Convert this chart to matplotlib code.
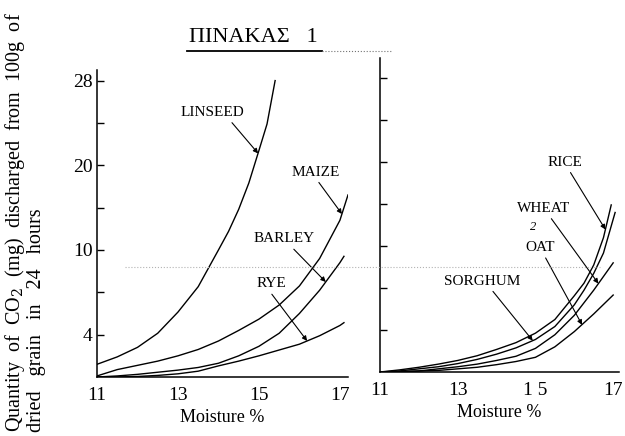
import numpy as np
import matplotlib
matplotlib.use("Agg")
import matplotlib.pyplot as plt
from matplotlib.lines import Line2D

plt.rcParams['font.family'] = ['Liberation Serif', 'DejaVu Serif']
plt.rcParams['mathtext.fontset'] = 'dejavuserif'

# --- eje Y no lineal: valores -> posicion de las marcas (equiespaciadas)
SCALE_VALUES = [-4, 0, 4, 10, 20, 28, 40]
SCALE_STEPS = [-1, 0, 1, 3, 5, 7, 10]

# --- panel izquierdo
linseed_x = [11.0, 11.5, 12.0, 12.5, 13.0, 13.5, 14.0, 14.25, 14.5, 14.75, 15.0, 15.2, 15.4]
linseed_y = [1.2, 1.9, 2.8, 4.1, 5.6, 7.4, 10.0, 12.2, 14.8, 17.9, 21.4, 23.9, 28.0]

maize_x = [11.0, 11.5, 12.0, 12.5, 13.0, 13.5, 14.0, 14.5, 15.0, 15.5, 16.0, 16.5, 17.0, 17.2]
maize_y = [0.1, 0.7, 1.1, 1.5, 2.0, 2.6, 3.4, 4.3, 5.1, 6.1, 7.45, 9.4, 13.5, 16.5]

barley_x = [11.0, 11.5, 12.0, 12.5, 13.0, 13.5, 14.0, 14.5, 15.0, 15.5, 16.0, 16.5, 17.0, 17.1]
barley_y = [0.0, 0.1, 0.25, 0.45, 0.65, 0.9, 1.3, 2.0, 2.9, 4.1, 5.5, 7.15, 9.1, 9.55]

rye_x = [11.0, 11.5, 12.0, 12.5, 13.0, 13.5, 14.0, 14.5, 15.0, 15.5, 16.0, 16.5, 17.0, 17.1]
rye_y = [0.0, 0.0, 0.05, 0.15, 0.3, 0.55, 1.05, 1.5, 2.0, 2.55, 3.1, 3.9, 4.65, 4.85]

# --- panel derecho
rice_x = [11.0, 11.5, 12.0, 12.5, 13.0, 13.5, 14.0, 14.5, 15.0, 15.5, 16.0, 16.25, 16.5, 16.75, 16.95]
rice_y = [0.0, 0.2, 0.45, 0.75, 1.1, 1.55, 2.15, 2.8, 3.7, 4.75, 6.45, 7.35, 8.65, 11.0, 14.9]

sorghum_x = [11.0, 11.5, 12.0, 12.5, 13.0, 13.5, 14.0, 14.5, 15.0, 15.5, 16.0, 16.25, 16.5, 16.75, 17.05]
sorghum_y = [0.0, 0.1, 0.3, 0.5, 0.8, 1.2, 1.7, 2.3, 3.1, 4.25, 5.8, 6.85, 8.05, 9.5, 14.0]

wheat_x = [11.0, 11.5, 12.0, 12.5, 13.0, 13.5, 14.0, 14.5, 15.0, 15.5, 16.0, 16.5, 17.0]
wheat_y = [0.0, 0.05, 0.1, 0.3, 0.5, 0.75, 1.1, 1.5, 2.25, 3.55, 5.05, 6.85, 8.8]

oat_x = [11.0, 11.5, 12.0, 12.5, 13.0, 13.5, 14.0, 14.5, 15.0, 15.5, 16.0, 16.5, 17.0]
oat_y = [0.0, 0.0, 0.1, 0.15, 0.3, 0.45, 0.7, 1.0, 1.4, 2.4, 3.85, 5.15, 6.5]

x_ticks = [11, 13, 15, 17]
left_xlabels = ['11', '13', '15', '17']
right_xlabels = ['11', '13', '1 5', '17']
left_major = [4, 10, 20, 28]
left_minor = [7, 15, 24]
right_ticks = [4, 7, 10, 15, 20, 24, 28]


def fwd(v):
    return np.interp(v, SCALE_VALUES, SCALE_STEPS)


def inv(s):
    return np.interp(s, SCALE_STEPS, SCALE_VALUES)


def preparar_ejes(ax, xmax, smax):
    ax.set_yscale('function', functions=(fwd, inv))
    ax.set_xlim(11, xmax)
    ax.set_ylim(0, float(inv(smax)))
    for lado in ['top', 'right']:
        ax.spines[lado].set_visible(False)
    for lado in ['left', 'bottom']:
        ax.spines[lado].set_linewidth(1.1)
    ax.set_xticks(x_ticks)
    ax.tick_params(axis='x', length=0, pad=7, labelsize=14)
    ax.tick_params(axis='y', which='both', direction='in', length=5, width=1, pad=3, labelsize=14)
    ax.set_xlabel('Moisture %', fontsize=13, labelpad=4)
    ax.patch.set_alpha(0)


def etiqueta(ax, texto, xs, ys, tip_x, pos, relpos):
    tip_y = float(np.interp(tip_x, xs, ys))
    ax.annotate(texto, xy=(tip_x, tip_y), xytext=pos, ha='center', va='center',
                fontsize=11,
                arrowprops=dict(arrowstyle='-|>', lw=0.8, color='black',
                                mutation_scale=7, shrinkA=1, shrinkB=0, relpos=relpos))


fig = plt.figure(figsize=(6.25, 4.36), dpi=100)

# panel izquierdo
ax1 = fig.add_axes([97 / 625, 1 - 377 / 436, 251 / 625, 307 / 436])
preparar_ejes(ax1, 17.2, 7.25)
ax1.set_yticks(left_major)
ax1.set_yticklabels([str(v) for v in left_major])
ax1.set_yticks(left_minor, minor=True)
ax1.set_xticklabels(left_xlabels)

for xs, ys in [(linseed_x, linseed_y), (maize_x, maize_y), (barley_x, barley_y), (rye_x, rye_y)]:
    ax1.plot(xs, ys, color='black', lw=1.0)

etiqueta(ax1, 'LINSEED', linseed_x, linseed_y, 14.98, (13.86, 25.0), (0.75, 0.0))
etiqueta(ax1, 'MAIZE', maize_x, maize_y, 17.05, (16.41, 19.2), (0.5, 0.0))
etiqueta(ax1, 'BARLEY', barley_x, barley_y, 16.65, (15.62, 11.3), (0.6, 0.0))
etiqueta(ax1, 'RYE', rye_x, rye_y, 16.19, (15.32, 7.6), (0.4, 0.0))

# panel derecho
ax2 = fig.add_axes([380 / 625, 1 - 372 / 436, 239 / 625, 314 / 436])
preparar_ejes(ax2, 17.15, 7.48)
ax2.set_yticks(right_ticks)
ax2.set_yticklabels([])
ax2.set_xticklabels(right_xlabels)

for xs, ys in [(rice_x, rice_y), (sorghum_x, sorghum_y), (wheat_x, wheat_y), (oat_x, oat_y)]:
    ax2.plot(xs, ys, color='black', lw=1.0)

etiqueta(ax2, 'RICE', rice_x, rice_y, 16.8, (15.75, 20.0), (0.6, 0.0))
etiqueta(ax2, 'WHEAT', wheat_x, wheat_y, 16.62, (15.2, 14.5), (0.6, 0.0))
etiqueta(ax2, 'OAT', oat_x, oat_y, 16.2, (15.13, 9.9), (0.6, 0.0))
etiqueta(ax2, 'SORGHUM', sorghum_x, sorghum_y, 14.93, (13.63, 7.5), (0.6, 0.0))
ax2.text(14.93, 12.3, '2', fontsize=9, style='italic', ha='center', va='center')

# titulo subrayado
fig.text(253 / 625, 1 - 37 / 436, 'ΠΙΝΑΚΑΣ   1', fontsize=16, ha='center', va='center')
fig.add_artist(Line2D([187 / 625, 322 / 625], [1 - 51 / 436] * 2, color='black', lw=1.3))
fig.add_artist(Line2D([322 / 625, 392 / 625], [1 - 51 / 436] * 2, color='0.45', lw=0.8, ls=':'))

# linea gris del escaneo
fig.add_artist(Line2D([125 / 625, 600 / 625], [1 - 267 / 436] * 2, color='0.7', lw=0.8, ls=':'))

# etiqueta del eje Y en dos lineas
fig.text(15 / 625, 4 / 436, 'Quantity  of  CO$_2$  (mg)  discharged  from  100g  of',
         rotation=90, ha='center', va='bottom', fontsize=14.5)
fig.text(37 / 625, 4 / 436, 'dried   grain   in   24   hours',
         rotation=90, ha='center', va='bottom', fontsize=14.5)

fig.savefig('out.png', dpi=100)
